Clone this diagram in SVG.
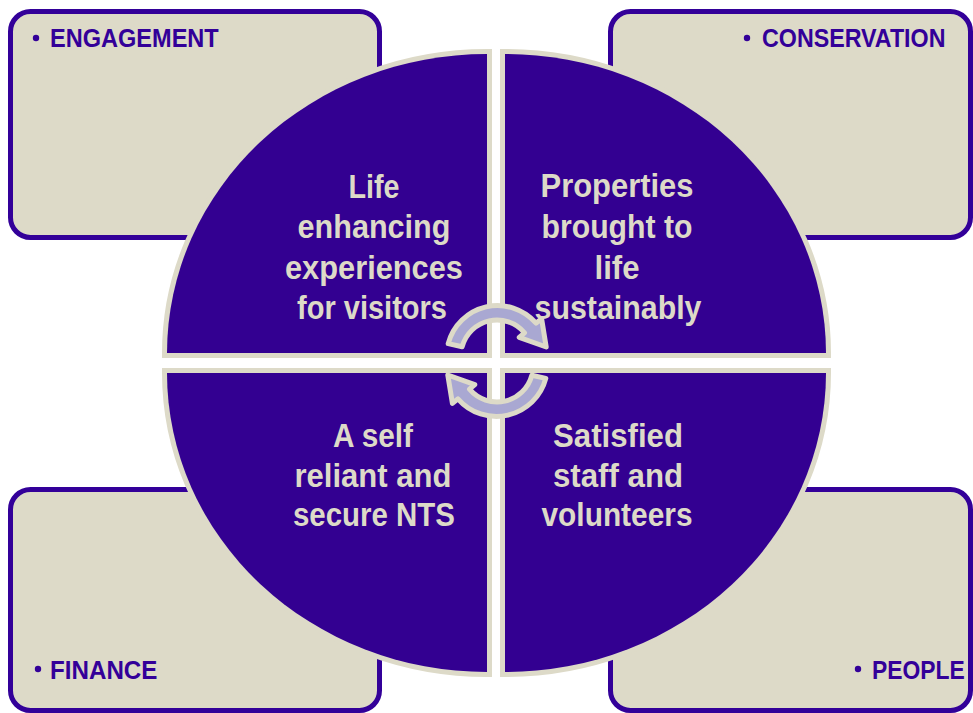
<svg xmlns="http://www.w3.org/2000/svg" xmlns:xlink="http://www.w3.org/1999/xlink" width="973" height="713" viewBox="0 0 973 713">
  <style>
    .box { fill: #DDDAC8; stroke: #330099; stroke-width: 5; }
    .label { font-family: "Liberation Sans", Arial, sans-serif; font-weight: bold; font-size: 26px; fill: #330099; }
    .dot { fill: #330099; }
    .quad { fill: #330091; stroke: #DDDAC8; stroke-width: 10; paint-order: stroke fill; stroke-linejoin: miter; }
    .qtext { font-family: "Liberation Sans", Arial, sans-serif; font-weight: bold; font-size: 34px; fill: #DDDAC8; text-anchor: middle; }
    .cycle { fill: #A9A8D2; stroke: #DDDAC8; stroke-width: 5; stroke-linejoin: round; }
  </style>
  <defs>
    <!-- curved arrow: arc band over the top, head pointing down-right -->
    <path id="curl" class="cycle" d="M448.2,343.6 A51,51 0 0 1 536.1,323.2 L541.6,318.6 L546.2,347.0 L519.2,337.3 L524.5,332.8 A36,36 0 0 0 462.2,346.7 Z"/>
  </defs>

  <rect width="973" height="713" fill="#FFFFFF"/>

  <!-- corner boxes -->
  <g id="engagement">
    <rect class="box" x="10.5" y="11.5" width="369" height="226" rx="20"/>
    <circle class="dot" cx="36" cy="38" r="3.2"/>
    <text class="label" transform="translate(50 47) scale(0.906 1)">ENGAGEMENT</text>
  </g>
  <g id="conservation">
    <rect class="box" x="610.5" y="11.5" width="360" height="226" rx="20"/>
    <circle class="dot" cx="747" cy="38" r="3.2"/>
    <text class="label" transform="translate(762 47) scale(0.895 1)">CONSERVATION</text>
  </g>
  <g id="finance">
    <rect class="box" x="10.5" y="489.5" width="369" height="221" rx="20"/>
    <circle class="dot" cx="38" cy="669" r="3.2"/>
    <text class="label" transform="translate(50 679) scale(0.93 1)">FINANCE</text>
  </g>
  <g id="people">
    <rect class="box" x="610.5" y="489.5" width="360" height="221" rx="20"/>
    <circle class="dot" cx="858" cy="669" r="3.2"/>
    <text class="label" transform="translate(872 679) scale(0.88 1)">PEOPLE</text>
  </g>

  <!-- central circle split in four quadrants -->
  <g id="visitors">
    <path class="quad" d="M487,353 H167 A320,299 0 0 1 487,54 Z"/>
    <text class="qtext"><tspan x="374" y="198" textLength="51" lengthAdjust="spacingAndGlyphs">Life</tspan><tspan x="374" y="238" textLength="153" lengthAdjust="spacingAndGlyphs">enhancing</tspan><tspan x="374" y="279" textLength="178" lengthAdjust="spacingAndGlyphs">experiences</tspan><tspan x="372" y="319" textLength="150" lengthAdjust="spacingAndGlyphs">for visitors</tspan></text>
  </g>
  <g id="properties">
    <path class="quad" d="M505,353 V54 A321,299 0 0 1 826,353 Z"/>
    <text class="qtext"><tspan x="617" y="197" textLength="153" lengthAdjust="spacingAndGlyphs">Properties</tspan><tspan x="617" y="238" textLength="151" lengthAdjust="spacingAndGlyphs">brought to</tspan><tspan x="617" y="279" textLength="45" lengthAdjust="spacingAndGlyphs">life</tspan><tspan x="618" y="319" textLength="167" lengthAdjust="spacingAndGlyphs">sustainably</tspan></text>
  </g>
  <g id="self-reliant">
    <path class="quad" d="M487,373 V672 A320,299 0 0 1 167,373 Z"/>
    <text class="qtext"><tspan x="373" y="447" textLength="80" lengthAdjust="spacingAndGlyphs">A self</tspan><tspan x="373" y="487" textLength="157" lengthAdjust="spacingAndGlyphs">reliant and</tspan><tspan x="374" y="526" textLength="162" lengthAdjust="spacingAndGlyphs">secure NTS</tspan></text>
  </g>
  <g id="staff">
    <path class="quad" d="M505,373 H826 A321,299 0 0 1 505,672 Z"/>
    <text class="qtext"><tspan x="618" y="447" textLength="130" lengthAdjust="spacingAndGlyphs">Satisfied</tspan><tspan x="618" y="487" textLength="130" lengthAdjust="spacingAndGlyphs">staff and</tspan><tspan x="617" y="526" textLength="151" lengthAdjust="spacingAndGlyphs">volunteers</tspan></text>
  </g>

  <!-- cycle arrows -->
  <g id="connectors">
    <use xlink:href="#curl"/>
    <use xlink:href="#curl" transform="rotate(180 497 361)"/>
  </g>
</svg>
